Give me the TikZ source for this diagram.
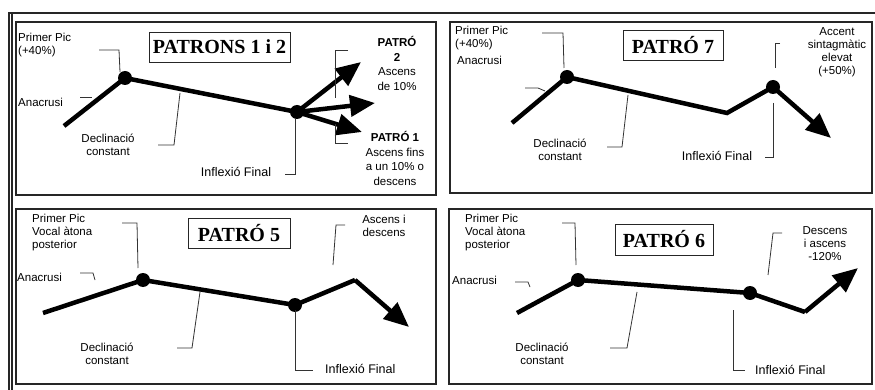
\documentclass[tikz,border=0pt]{standalone}
\usepackage{fontspec}
\setmainfont{Liberation Sans}
\newfontfamily\titlefont{Liberation Serif}
\usetikzlibrary{arrows.meta}
\tikzset{
  frame/.style={draw=black!85, line width=1.1pt},
  contour/.style={line width=4.5pt, black},
  arrowtip/.style={-{Triangle[length=25pt,width=21pt]}},
  dotnode/.style={circle, fill=black, inner sep=0pt, minimum size=14pt},
  leader/.style={line width=0.8pt, black!80},
  lab/.style={font=\fontsize{11.5}{13}\selectfont, inner sep=0pt},
  labl/.style={lab, align=left, anchor=west},
  labc/.style={lab, align=center},
  inflab/.style={lab, font=\fontsize{12.5}{14}\selectfont},
  bigl/.style={font=\fontsize{11.5}{14.5}\selectfont, inner sep=0pt, align=center},
  titlebox/.style={draw=black!85, line width=0.9pt, font=\titlefont\bfseries\fontsize{20}{22}\selectfont, inner sep=0pt, minimum height=30pt}
}
\begin{document}
\begin{tikzpicture}[x=1pt,y=-1pt]
\useasboundingbox (0,0) rectangle (875,390);
\fill[white] (0,0) rectangle (875,390);
% outer frame
\draw[frame] (9,390) -- (9,13) -- (875,13);
\draw[frame] (12,390) -- (12,14);
% panels
\draw[frame] (16,22) rectangle (436,195);
\draw[frame] (450,22) rectangle (872,193);
\draw[frame] (16,209) rectangle (436,384);
\draw[frame] (449,209) rectangle (872,384);

% ---------------- Panel 1 ----------------
\node[titlebox, minimum width=141pt] (t1) at (219.5,47) {PATRONS 1 i 2};
\coordinate (a1) at (64,126);
\coordinate (p1) at (125,78);
\coordinate (q1) at (297,112);
\coordinate (u1) at (361,62);
\coordinate (r1) at (375,103);
\coordinate (s1) at (362,132);
\draw[contour] (a1) -- (p1) -- (q1);
\draw[contour, arrowtip] (q1) -- (u1);
\draw[contour, arrowtip] (q1) -- (r1);
\draw[contour, arrowtip] (q1) -- (s1);
\node[dotnode] (dp1) at (p1) {};
\node[dotnode] (dq1) at (q1) {};
\node[labl] (pp1) at (18,45) {Primer Pic\\(+40\%)};
\node[labl] (an1) at (18,102) {Anacrusi};
\node[labc] (dc1) at (108,145) {Declinació\\constant};
\node[inflab] (if1) at (236,172) {Inflexió Final};
\node[bigl] (pt2) at (397,63.5) {\textbf{PATRÓ}\\\textbf{2}\\Ascens\\de 10\%};
\node[bigl] (pt1) at (395,158.5) {\textbf{PATRÓ 1}\\Ascens fins\\a un 10\% o\\descens};
\draw[leader] (99,50) -- (119,50) -- (120,72);
\draw[leader] (80,97) -- (92,97);
\draw[leader] (158,145) -- (174,145) -- (180,93);
\draw[leader] (295,118) -- (295,174) -- (285,174);
\draw[leader] (348,50) -- (335,50) -- (335,98);
\draw[leader] (335,124) -- (335,143) -- (348,143);

% ---------------- Panel 2 ----------------
\node[titlebox, minimum width=100pt] (t2) at (673,45) {PATRÓ 7};
\coordinate (a2) at (512,123);
\coordinate (p2) at (567,77);
\coordinate (v2) at (727,113);
\coordinate (q2) at (773,87);
\coordinate (e2) at (831,138);
\draw[contour] (a2) -- (p2) -- (v2) -- (q2);
\draw[contour, arrowtip] (q2) -- (e2);
\node[dotnode] (dp2) at (p2) {};
\node[dotnode] (dq2) at (q2) {};
\node[labl] (pp2) at (455,38) {Primer Pic\\(+40\%)};
\node[labl] (an2) at (457,60) {Anacrusi};
\node[labc] (dc2) at (560,150) {Declinació\\constant};
\node[inflab] (if2) at (717,156) {Inflexió Final};
\node[labc] (ac2) at (837,52.5) {Accent\\sintagmàtic\\elevat\\(+50\%)};
\draw[leader] (542,33) -- (563,33) -- (564,68);
\draw[leader] (525,88) -- (538,88) -- (545,91);
\draw[leader] (607,147) -- (622,147) -- (628,95);
\draw[leader] (780,43) -- (775,43) -- (775,68);
\draw[leader] (773,103) -- (773,157) -- (765,157);

% ---------------- Panel 3 ----------------
\node[titlebox, minimum width=102pt] (t3) at (239,233) {PATRÓ 5};
\coordinate (a3) at (43,313);
\coordinate (p3) at (143,280);
\coordinate (q3) at (295,305);
\coordinate (k3) at (355,280);
\coordinate (e3) at (409,327);
\draw[contour] (a3) -- (p3) -- (q3) -- (k3);
\draw[contour, arrowtip] (k3) -- (e3);
\node[dotnode] (dp3) at (p3) {};
\node[dotnode] (dq3) at (q3) {};
\node[labl] (pp3) at (32,232.5) {Primer Pic\\Vocal àtona\\posterior};
\node[labl] (an3) at (17,277) {Anacrusi};
\node[labc] (dc3) at (107,353.5) {Declinació\\constant};
\node[inflab, anchor=west] (if3) at (325,369) {Inflexió Final};
\node[labc] (as3) at (384,226) {Ascens i\\descens};
\draw[leader] (122,223) -- (137,223) -- (138,268);
\draw[leader] (80,273) -- (93,273) -- (95,280);
\draw[leader] (177,348) -- (192,348) -- (200,292);
\draw[leader] (295,310) -- (295,370) -- (313,370);
\draw[leader] (345,225) -- (336,225) -- (333,265);

% ---------------- Panel 4 ----------------
\node[titlebox, minimum width=98pt, minimum height=31pt] (t4) at (664,239.5) {PATRÓ 6};
\coordinate (a4) at (517,313);
\coordinate (p4) at (578,280);
\coordinate (q4) at (750,293);
\coordinate (k4) at (805,312);
\coordinate (e4) at (858,268);
\draw[contour] (a4) -- (p4) -- (q4) -- (k4);
\draw[contour, arrowtip] (k4) -- (e4);
\node[dotnode] (dp4) at (p4) {};
\node[dotnode] (dq4) at (q4) {};
\node[labl] (pp4) at (465,233) {Primer Pic\\Vocal àtona\\posterior};
\node[labl] (an4) at (452,280) {Anacrusi};
\node[labc] (dc4) at (542,353.5) {Declinació\\constant};
\node[inflab, anchor=west] (if4) at (755,370) {Inflexió Final};
\node[labc] (de4) at (825,243.5) {Descens\\i ascens\\-120\%};
\draw[leader] (562,223) -- (575,223) -- (576,265);
\draw[leader] (515,282) -- (528,282) -- (530,287);
\draw[leader] (610,348) -- (627,348) -- (637,292);
\draw[leader] (733,310) -- (733,370) -- (745,370);
\draw[leader] (782,233) -- (773,233) -- (768,275);
\end{tikzpicture}
\end{document}
